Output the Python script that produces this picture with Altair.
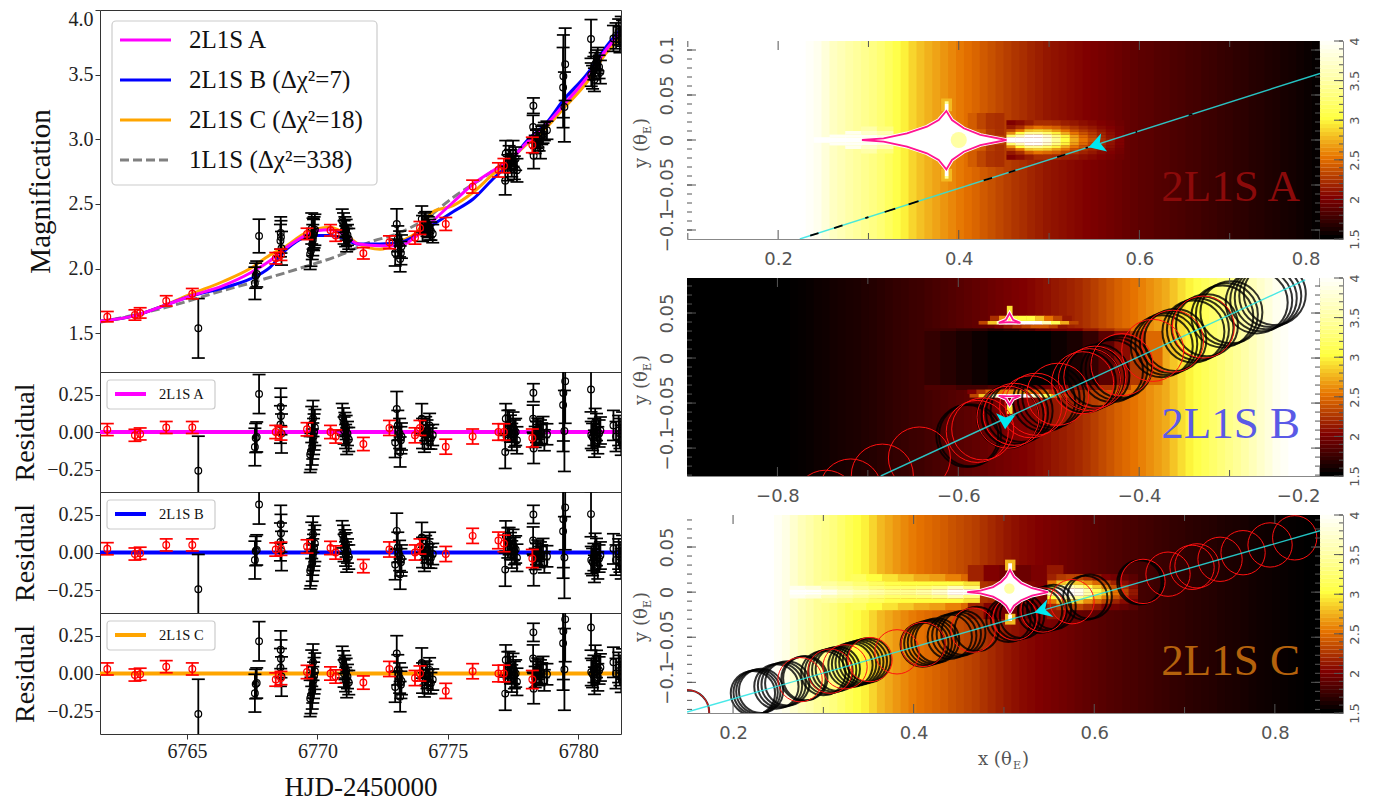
import altair as alt
import pandas as pd

SERIF = "Liberation Serif"
SANS = "DejaVu Sans"
GREY = "#555555"

# ---------- light curves ----------
day_a = [6761.66,6763.0,6764.19,6765.12,6766.38,6767.42,6768.18,6768.82,6769.45,6769.97,6770.48,6770.98,6771.56,6772.4,6773.17,6773.81,6774.43,6775.2,6775.97,6776.73,6777.27,6778.04,6778.8,6779.42,6780.34,6781.1,6781.64]
mag_a = [1.592,1.636,1.719,1.786,1.868,1.966,2.061,2.165,2.247,2.293,2.301,2.268,2.19,2.177,2.177,2.254,2.37,2.513,2.654,2.757,2.82,2.977,3.118,3.26,3.48,3.70,3.83]
mag_b = [1.592,1.636,1.719,1.786,1.85,1.92,2.01,2.15,2.236,2.255,2.255,2.236,2.19,2.19,2.203,2.26,2.34,2.44,2.538,2.693,2.796,2.99,3.13,3.30,3.505,3.724,3.855]
mag_c = [1.592,1.636,1.72,1.80,1.90,2.0,2.105,2.177,2.265,2.306,2.32,2.28,2.19,2.15,2.208,2.283,2.44,2.487,2.59,2.73,2.82,2.964,3.095,3.235,3.443,3.675,3.78]
day_s = [6761.66,6764.19,6766.38,6767.42,6769.45,6770.98,6772.01,6773.04,6774.04,6775.2,6776.73,6778.8,6781.1,6781.64]
mag_s = [1.585,1.70,1.83,1.888,2.01,2.113,2.205,2.268,2.37,2.55,2.757,3.12,3.70,3.84]

# ---------- red data ----------
red_day = [6761.94,6763.0,6763.2,6764.2,6765.2,6768.4,6768.6,6769.6,6770.5,6770.7,6771.76,6772.76,6773.74,6773.93,6774.92,6775.95,6776.94,6777.15,6778.24]
red_mag = [1.628,1.641,1.657,1.75,1.806,2.08,2.107,2.268,2.296,2.255,2.118,2.203,2.239,2.314,2.345,2.634,2.763,2.796,2.956]
red_err = [.04,.04,.04,.04,.04,.044,.044,.044,.044,.044,.044,.05,.05,.05,.05,.05,.055,.055,.06]
red_res_a = [.016,-.022,-.013,.03,.03,0,-.01,.018,0,-.03,-.08,.027,-.022,.027,-.098,-.03,0,0,-.04]
red_res_b = [.025,-.01,-.005,.05,.05,.02,.025,.04,.03,0,-.09,.02,0,.04,-.01,.11,.08,.06,-.04]
red_res_c = [.03,-.01,-.005,.045,.03,-.04,-.03,.01,0,-.02,-.06,.03,-.03,0,-.115,.015,0,0,-.04]

# ---------- black data, one list per cluster ----------
blk_day = [[6765.43],[6767.76],[6767.63,6767.6,6767.67],[6768.59,6768.6,6768.58,6768.62],
 [6769.72,6769.75,6769.8,6769.82,6769.85,6769.87,6769.9,6769.78,6769.83],
 [6770.95,6771.0,6771.05,6771.1,6771.02,6771.15,6771.08,6771.2,6771.12],
 [6773.04,6773.15,6772.98,6773.17,6773.22,6773.08,6773.2],
 [6774.0,6774.03,6774.1,6774.2,6774.3,6774.42,6774.25,6774.35,6774.15],
 [6777.2,6777.22,6777.35,6777.4,6777.5,6777.6,6777.45,6777.55,6777.65,6777.3],
 [6778.28,6778.27,6778.29,6778.4,6778.5,6778.6,6778.7,6778.35,6778.55,6778.45,6778.65,6778.8],
 [6779.43,6779.5,6779.42,6779.47],[6780.49],
 [6780.5,6780.6,6780.65,6780.7,6780.75,6780.8,6780.85,6780.55,6780.62],
 [6781.35,6781.45,6781.55,6781.6,6781.65,6781.7]]
blk_mag = [[1.538],[2.252],[1.945,1.886,1.958],[2.275,2.245,2.216,2.157],
 [2.113,2.138,2.19,2.22,2.26,2.28,2.30,2.31,2.27],
 [2.37,2.34,2.32,2.30,2.28,2.26,2.25,2.23,2.22],
 [2.345,2.19,2.12,2.075,2.17,2.23,2.12],
 [2.384,2.31,2.35,2.33,2.30,2.27,2.32,2.29,2.36],
 [2.68,2.89,2.86,2.83,2.89,2.85,2.80,2.78,2.76,2.78],
 [3.26,3.095,2.873,3.0,2.98,3.03,3.06,2.96,2.93,3.01,3.04,3.07],
 [3.487,3.58,3.40,3.25],[3.776],
 [3.50,3.55,3.58,3.6,3.62,3.56,3.52,3.48,3.46],
 [3.78,3.8,3.83,3.77,3.85,3.82]]
blk_err = [[.23],[.13],[.097,.125,.1],[.125,.125,.125,.13],
 [.12,.12,.12,.12,.12,.12,.12,.12,.12],
 [.09,.09,.08,.08,.09,.08,.08,.08,.09],
 [.117,.1,.1,.1,.09,.1,.09],
 [.1,.1,.08,.08,.08,.07,.08,.07,.08],
 [.11,.1,.09,.09,.1,.09,.09,.09,.09,.1],
 [.06,.09,.1,.07,.07,.07,.07,.07,.08,.07,.07,.07],
 [.32,.28,.31,.27],[.15],
 [.09,.09,.09,.09,.09,.09,.09,.09,.09],
 [.1,.1,.1,.1,.1,.1]]
blk_res = [[-.258],[.253],[-.04,-.10,-.033],[.167,.107,.05,-.01],
 [-.15,-.13,-.10,-.06,-.03,0,.03,.05,.09],
 [.10,.07,.05,.03,.01,-.01,-.03,-.05,-.06],
 [.153,-.01,-.07,-.133,-.03,.044,-.055],
 [.089,-.01,-.055,0,.044,-.02,-.033,-.044,.022],
 [-.133,.089,.055,.022,.033,0,-.033,-.01,-.055,.044],
 [.262,.089,-.11,0,-.02,-.01,-.055,-.033,0,.022,.033,-.015],
 [.26,.338,.18,.007],[.284],
 [-.02,0,.067,.033,-.055,-.01,.01,-.033,-.078],
 [.044,-.03,.01,-.01,-.055,.033]]
shift_b = [.015,.065,.05,.02,.03,.02,-.01,.01,.02,-.01,-.04,-.03,-.03,-.02]
shift_c = [-.01,-.04,-.03,-.01,-.015,-.01,-.02,-.02,0,.01,.02,.02,.03,.03]

rows = []
for i in range(len(blk_day)):
    for j in range(len(blk_day[i])):
        rows.append(dict(day=blk_day[i][j], mag=blk_mag[i][j], err=blk_err[i][j],
                         A=blk_res[i][j], B=blk_res[i][j]+shift_b[i], C=blk_res[i][j]+shift_c[i]))
black = pd.DataFrame(rows)
red = pd.DataFrame(dict(day=red_day, mag=red_mag, err=red_err, A=red_res_a, B=red_res_b, C=red_res_c))

X_DOM = [6761.66, 6781.64]
COL = dict(A="#ff00ff", B="#0000ff", C="#ffa500")
xs_top = alt.Scale(domain=X_DOM, nice=False, zero=False)

def data_layers(df, col, yscale, colour, rad, xaxis, yaxis):
    d = pd.DataFrame(dict(day=df.day, v=df[col], lo=df[col]-df.err, hi=df[col]+df.err))
    xs = alt.X("day:Q", scale=xs_top, axis=xaxis)
    ys = alt.Y("v:Q", scale=yscale, axis=yaxis)
    ylo = alt.Y("lo:Q", scale=yscale, axis=yaxis)
    yhi = alt.Y("hi:Q", scale=yscale, axis=yaxis)
    c = alt.Chart(d)
    return [
        c.mark_rule(color=colour, strokeWidth=1.8, clip=True).encode(x=xs, y=ylo, y2=alt.Y2("hi:Q")),
        c.mark_point(shape="stroke", size=169, color=colour, strokeWidth=1.7, opacity=1, clip=True).encode(x=xs, y=ylo),
        c.mark_point(shape="stroke", size=169, color=colour, strokeWidth=1.7, opacity=1, clip=True).encode(x=xs, y=yhi),
        c.mark_point(shape="circle", size=rad, color=colour, filled=False, strokeWidth=1.2, opacity=1, clip=True).encode(x=xs, y=ys),
    ]

one = pd.DataFrame({"a": [0]})

def txt(s, x, y, size, font=SERIF, color="#111111", **kw):
    return alt.Chart(one).mark_text(text=s, font=font, fontSize=size, color=color, align=kw.pop("align", "left"),
                                    baseline=kw.pop("baseline", "alphabetic"), **kw).encode(x=alt.value(x), y=alt.value(y))

# ---------- top panel ----------
ys_top = alt.Scale(domain=[1.2, 4.0], nice=False, zero=False)
axis_top = alt.Axis(values=[1.5, 2, 2.5, 3, 3.5, 4], format=".1f", title="Magnification",
        titleFont=SERIF, titleFontSize=29, titleFontWeight="normal", titleColor="#111", titlePadding=13,
        labelFont=SERIF, labelFontSize=20, labelColor="#222", tickSize=5, tickColor="#333", domain=False, grid=False,
        labelFlush=True, labelFlushOffset=1)

def curve(days, mags, colour, dash=None):
    kw = dict(strokeDash=dash) if dash else {}
    return alt.Chart(pd.DataFrame(dict(day=days, v=mags))).mark_line(
        color=colour, strokeWidth=3, interpolate="monotone", clip=True, **kw).encode(
        x=alt.X("day:Q", scale=xs_top, axis=None), y=alt.Y("v:Q", scale=ys_top, axis=axis_top))

legend_rows = [("2L1S A", COL["A"], None), ("2L1S B (Δχ²=7)", COL["B"], None),
               ("2L1S C (Δχ²=18)", COL["C"], None), ("1L1S (Δχ²=338)", "#808080", [9, 4])]
legend = [alt.Chart(one).mark_rect(fill="white", fillOpacity=0.85, stroke="#cccccc", strokeWidth=1.2, cornerRadius=4).encode(
    x=alt.value(12), x2=alt.value(277), y=alt.value(11), y2=alt.value(175))]
for i, (lab, colr, dash) in enumerate(legend_rows):
    yy = 30 + 40 * i
    kw = dict(strokeDash=dash) if dash else {}
    legend.append(alt.Chart(one).mark_rule(color=colr, strokeWidth=3, **kw).encode(
        x=alt.value(20), x2=alt.value(71), y=alt.value(yy)))
    legend.append(txt(lab, 89, yy + 8, 25))

top = alt.layer(
    curve(day_s, mag_s, "#808080", [9, 4]),
    curve(day_a, mag_c, COL["C"]), curve(day_a, mag_b, COL["B"]), curve(day_a, mag_a, COL["A"]),
    *data_layers(black, "mag", ys_top, "#000000", 45, None, axis_top),
    *data_layers(red, "mag", ys_top, "#ff0000", 45, None, axis_top),
    *legend
).properties(width=521, height=362, view=alt.ViewConfig(stroke="#333333"))

# ---------- residual panels ----------
ys_res = alt.Scale(domain=[-0.4, 0.4], nice=False, zero=False)
axis_res = alt.Axis(values=[-0.25, 0, 0.25], format=".2f", title="Residual",
            titleFont=SERIF, titleFontSize=28, titleFontWeight="normal", titleColor="#111", titlePadding=7,
            labelFont=SERIF, labelFontSize=20, labelColor="#222", tickSize=5, tickColor="#333", domain=False, grid=False)
axis_day = alt.Axis(values=[6765, 6770, 6775, 6780], format="d", title="HJD-2450000", titleFont=SERIF, titleFontSize=27,
                     titleFontWeight="normal", titleColor="#111", titlePadding=13, labelFont=SERIF, labelFontSize=20,
                     labelColor="#222", tickSize=5, tickColor="#333", domain=False, grid=False)

def res_panel(col, label, h, bottom=False):
    xaxis = axis_day if bottom else None
    zero = alt.Chart(pd.DataFrame(dict(v=[0]))).mark_rule(color=COL[col], strokeWidth=4).encode(
        y=alt.Y("v:Q", scale=ys_res, axis=axis_res))
    leg = [alt.Chart(one).mark_rect(fill="white", fillOpacity=0.85, stroke="#cccccc", strokeWidth=1.2, cornerRadius=3).encode(
               x=alt.value(7), x2=alt.value(115), y=alt.value(8), y2=alt.value(37)),
           alt.Chart(one).mark_rule(color=COL[col], strokeWidth=4).encode(x=alt.value(15), x2=alt.value(46), y=alt.value(22)),
           txt(label, 59, 27, 14.5)]
    return alt.layer(zero, *data_layers(black, col, ys_res, "#000000", 45, xaxis, axis_res),
                     *data_layers(red, col, ys_res, "#ff0000", 45, xaxis, axis_res), *leg
                     ).properties(width=521, height=h, view=alt.ViewConfig(stroke="#333333"))

left = alt.vconcat(top, res_panel("A", "2L1S A", 120), res_panel("B", "2L1S B", 121),
                   res_panel("C", "2L1S C", 121, True), spacing=0, bounds="flush")

# ---------- magnification maps ----------
heat_scale = alt.Scale(domain=[1.5, 2, 2.5, 3, 3.5, 4],
                       range=["#000000", "#800000", "#e67300", "#ffff40", "#ffffa8", "#ffffff"],
                       clamp=True, zero=False, nice=False, interpolate="rgb")

base_a = [4,4,4,4,4,4,4,4,4,4,4,4,4,4,4,3.96,
 3.9,3.78,3.65,3.58,3.5,3.44,3.38,3.32,3.25,3.15,3.05,2.95,2.85,2.78,2.72,2.67,
 2.62,2.57,2.52,2.48,2.44,2.39,2.35,2.31,2.27,2.23,2.2,2.16,2.13,2.1,2.08,2.06,
 2.04,2.02,2.0,1.98,1.96,1.94,1.92,1.9,1.88,1.86,1.85,1.83,1.82,1.8,1.79,1.77,
 1.76,1.74,1.73,1.71,1.7,1.68,1.67,1.65,1.64,1.62,1.61,1.59,1.58,1.56,1.54,1.52]
base_b = [1.5,1.5,1.5,1.5,1.5,1.5,1.5,1.5,1.5,1.5,1.5,1.5,1.5,1.51,
 1.52,1.53,1.55,1.56,1.58,1.59,1.6,1.61,1.63,1.64,1.66,1.68,1.7,1.71,1.73,1.74,
 1.76,1.78,1.8,1.82,1.84,1.86,1.88,1.9,1.92,1.94,1.96,1.98,2.0,2.02,2.05,2.07,
 2.1,2.12,2.15,2.18,2.22,2.27,2.32,2.37,2.42,2.46,2.5,2.55,2.6,2.65,2.7,2.79,
 2.88,2.96,3.05,3.12,3.2,3.28,3.35,3.42,3.5,3.6,3.7,3.8,3.9,3.95,4,4,4,4]
base_c = [4,4,4,4,4,4,4,4,4,4,4,3.93,
 3.85,3.72,3.6,3.51,3.42,3.36,3.3,3.2,3.1,3.02,2.95,2.85,2.75,2.69,2.63,2.58,
 2.53,2.49,2.46,2.43,2.4,2.36,2.33,2.3,2.27,2.22,2.18,2.14,2.1,2.07,2.04,2.02,
 2.0,1.98,1.96,1.94,1.92,1.9,1.88,1.86,1.84,1.82,1.81,1.79,1.78,1.76,1.75,1.73,
 1.72,1.7,1.69,1.67,1.66,1.65,1.64,1.62,1.61,1.6,1.59,1.57,1.56,1.55,1.54,1.53,
 1.52,1.51,1.5,1.5]

# y0, y1, first x, step, values (drawn on both sides of y=0 when mirrored)
patch_a = [
 (.012,.03,.41,.01,[2.4,2.3,2.22,2.2]),
 (.005,.012,.43,.01,[2.25,2.2,2.25]),
 (0,.003,.2393,.0175,[4,4,4,4]),
 (.003,.006,.2568,.0175,[3.95,3.95,3.95,3.8]),
 (.006,.01,.2743,.0175,[3.9,3.7,3.55]),
 (.01,.015,.2918,.0175,[3.5,3.3]),
 (.016,.022,.4528,.01,[2.0,2.05,2.12,2.2,2.2,2.18,2.13,2.1,2.06,2.03,2.0,1.97,1.93]),
 (.012,.016,.4528,.01,[2.1,2.2,2.4,2.5,2.45,2.4,2.3,2.22,2.15,2.1,2.04,2.0,1.95]),
 (.009,.012,.4528,.01,[2.3,2.5,2.8,2.85,2.8,2.65,2.5,2.35,2.25,2.18,2.1,2.03,1.96]),
 (.006,.009,.4528,.01,[2.6,3.0,3.4,3.4,3.2,2.95,2.7,2.5,2.35,2.25,2.15,2.06,1.98]),
 (.003,.006,.4528,.01,[3.2,3.6,4,4,3.7,3.3,2.95,2.65,2.45,2.3,2.18,2.08,2.0]),
 (0,.003,.4528,.01,[4,4,4,4,3.8,3.4,3,2.7,2.5,2.35,2.2,2.1,2.0]),
 (.032,.046,.3805,.0115,[2.75]),
 (.033,.04,.3845,.004,[4]),
 (.04,.043,.3845,.004,[3.4]),
]
patch_b = [
 (-.03,.03,-.6375,.0175,[1.7,1.65,1.6,1.55,1.5,1.5,1.5,1.5,1.55,1.6,1.7,1.85,2.05,2.25,2.45]),
 (.03,.033,-.6375,.0175,[1.75,1.75,1.7,1.7,1.65,1.7,1.8,1.9,1.95,2.0,2.1,2.2,2.3]),
 (-.0355,-.03,-.6375,.0175,[1.8,1.8,1.75,1.75,1.8,1.85,1.9,1.95,2.0,2.05,2.1,2.2,2.3]),
 (.033,.0372,-.56,.01,[2,2.1,2.2,2.3,2.4,2.4,2.3,2.1]),
 (.0372,.0412,-.5775,.01,[2.3,2.8,3.6,4,4,4,4,3.6,3.1,2.7,2.3]),
 (.0412,.047,-.565,.01,[2.2,2.6,3,3,3,2.8,2.5,2.3,2.1]),
 (.048,.058,-.5463,.006,[2.9]),
 (-.0399,-.035,-.59,.01,[2.0,2.2,2.4,2.5,2.6,2.6,2.6,2.5,2.4,2.2]),
 (-.0439,-.0399,-.5875,.01,[2.3,2.8,3.6,4,4,4,4,3.6,3.1,2.7,2.3]),
 (-.062,-.052,-.5463,.006,[2.9]),
]
patch_c = [
 (.012,.02,.33,.0175,[3.15,3.0,2.9,2.8,2.7,2.65,2.55,2.45,2.3,2.15]),
 (.007,.012,.2975,.0175,[3.45,3.35,3.25,3.15,3.05,3.0,3.0,3.0,3.0,2.9]),
 (.003,.007,.2625,.0175,[3.9,3.8,3.6,3.5,3.4,3.3,3.2,3.2,3.25,3.35,3.6,3.3]),
 (0,.003,.2625,.0175,[4,4,3.9,3.7,3.6,3.5,3.4,3.4,3.5,3.7,4,4]),
 (.012,.03,.46,.0175,[2.15,2.0,1.95,1.92,1.98,2.1]),
 (.013,.02,.548,.01,[2.15,2.25,2.3,2.3,2.2,2.1,2.0,1.95,1.9,1.85]),
 (.008,.013,.548,.01,[2.5,2.8,2.9,2.8,2.6,2.45,2.3,2.15,2.05,1.95]),
 (.004,.008,.548,.01,[3,3.5,3.6,3.4,3.1,2.8,2.55,2.35,2.2,2.05]),
 (0,.004,.548,.01,[3.5,4,4,3.9,3.5,3.1,2.8,2.5,2.3,2.1]),
 (.024,.036,.5012,.011,[2.75]),
 (.025,.032,.5047,.004,[4]),
]

def heat_frame(base, xd, yd, patches, mirror):
    cells = []
    step = (xd[1] - xd[0]) / len(base)
    for i, v in enumerate(base):
        cells.append(dict(x=xd[0] + i * step, x2=xd[0] + (i + 1.15) * step, y=yd[0], y2=yd[1], v=v))
    for y0, y1, xs, st, vals in patches:
        for i, v in enumerate(vals):
            cells.append(dict(x=xs + i * st, x2=xs + (i + 1.05) * st, y=y0, y2=y1, v=v))
            if mirror:
                cells.append(dict(x=xs + i * st, x2=xs + (i + 1.05) * st, y=-y0, y2=-y1, v=v))
    return pd.DataFrame(cells)

# caustics
ca_x = [.2928,.3168,.3427,.3648,.3778,.3863,.3925,.4055,.4239,.4528]
ca_up = [0,.0018,.0074,.0148,.0222,.0322,.0222,.013,.0056,0]
ca_lo = [0,-.0018,-.0074,-.0148,-.0222,-.0326,-.0222,-.013,-.0056,0]
cc_x = [.4593,.474,.488,.497,.5025,.5067,.511,.519,.531,.5488]
cc_up = [0,.0016,.0056,.0113,.0169,.0244,.0169,.0099,.0043,0]
cc_lo = [0,-.0015,-.005,-.0101,-.015,-.022,-.015,-.009,-.0039,0]
cb_up_x = [-.5553,-.5433,-.5313,-.5395,-.5433,-.5472,-.5553]
cb_up_y = [.0392,.0398,.0392,.0425,.0497,.0425,.0392]
cb_lo_x = [-.5553,-.5433,-.5313,-.5395,-.5433,-.5472,-.5553]
cb_lo_y = [-.0419,-.0425,-.0419,-.0455,-.052,-.0455,-.0419]

# source trajectories
traj_a_x, traj_a_y = [.224,.8], [-.11,.074]
traj_b_x, traj_b_y = [-.6857,-.2164], [-.131,.0867]
traj_c_x, traj_c_y = [.149,.85], [-.133,.068]

# short black pieces of the trajectory in map A (tiny source circles)
seg_x = [.2355,.262,.2965,.318,.3445,.4276,.4553,.509,.5404,.5958,.6545]
seg_x2 = [.2447,.2713,.300,.3297,.3555,.4369,.4627,.518,.543,.5976,.6587]
seg_y = [-.1063,-.0979,-.0869,-.0800,-.0715,-.0449,-.0361,-.0190,-.0089,.0088,.0275]
seg_y2 = [-.1034,-.0949,-.0857,-.0762,-.0680,-.0420,-.0337,-.0161,-.0081,.0094,.0289]

# source circles
ring_red_b_x = [-.7467,-.719,-.684,-.643,-.579,-.573,-.545,-.538,-.52,-.514,-.49,-.4625,-.455,-.449,-.419,-.385,-.363,-.329]
ring_red_b_y = [-.159,-.1465,-.130,-.111,-.0815,-.0787,-.0657,-.0625,-.0541,-.0513,-.0402,-.0274,-.024,-.0212,-.0073,.0085,.0187,.0344]
ring_blk_b_x = [-.590,-.587,-.545,-.540,-.535,-.530,-.505,-.500,-.495,-.46,-.455,-.45,-.445,-.43,-.425,-.42,-.375,-.37,-.365,-.36,-.34,-.335,-.33,-.325,-.308,-.303,-.298,-.27,-.265,-.26,-.255,-.25]
ring_blk_b_y = [-.0866,-.0857,-.0657,-.0634,-.0611,-.0587,-.0472,-.0449,-.0426,-.0263,-.024,-.0217,-.0194,-.0144,-.0121,-.0098,.0132,.0155,.0178,.0201,.0294,.0317,.034,.0364,.0462,.0485,.0508,.0618,.0641,.0665,.0688,.0711]
ring_red_c_x = [.149,.2742,.3074,.324,.3517,.3816,.4104,.4658,.5123,.5433,.5754,.654,.6817,.7083,.7138,.7393,.7648,.7947,.822]
ring_red_c_y = [-.133,-.0971,-.0876,-.0828,-.0748,-.0662,-.058,-.0421,-.0287,-.0198,-.0106,.0119,.0199,.0275,.0291,.0364,.0437,.0523,.0602]
ring_blk_c_x = [.149,.222,.225,.228,.231,.248,.252,.256,.26,.278,.28,.30,.304,.308,.312,.316,.33,.334,.338,.342,.346,.35,.41,.414,.418,.422,.426,.44,.445,.45,.455,.47,.505,.51,.515,.52,.54,.545,.55,.555,.59,.595,.65,.652]
ring_blk_c_y = [-.133,-.112,-.1111,-.1103,-.1094,-.1046,-.1034,-.1023,-.1011,-.096,-.0954,-.0897,-.0885,-.0874,-.0862,-.0851,-.081,-.0799,-.0788,-.0776,-.0765,-.0753,-.0581,-.0569,-.0558,-.0546,-.0535,-.0495,-.0480,-.0466,-.0452,-.0409,-.0308,-.0294,-.0280,-.0265,-.0208,-.0194,-.0179,-.0165,-.0064,-.005,.0108,.0114]

cbar_levels = [1.5 + 0.05 * i for i in range(50)]

def map_panel(name, xd, yd, base, patches, mirror, xmajor, xminor, ymajor, colour, traj, arrow, arrow_path,
              rings=None, ring_size=0, lines=(), areas=(), dots=(), xtitle=False):
    sx = alt.Scale(domain=xd, nice=False, zero=False)
    sy = alt.Scale(domain=yd, nice=False, zero=False)
    ax = alt.Axis(values=xmajor, format=".1f", title=None, labelFont=SANS, labelFontSize=18,
                labelColor=GREY, tickSize=0, domain=False, grid=False, labelPadding=11, labelOverlap=False)
    ay = alt.Axis(values=ymajor, format=".2~f", title=None, labelFont=SANS, labelFontSize=18,
                labelColor=GREY, labelAngle=270, tickSize=0, domain=False, grid=False, labelPadding=11, labelOverlap=False)
    X0 = alt.X("x:Q", scale=sx, axis=ax)
    Y0 = alt.Y("y:Q", scale=sy, axis=ay)
    heat = alt.Chart(heat_frame(base, xd, yd, patches, mirror)).mark_rect(clip=True).encode(
        x=X0, x2=alt.X2("x2"), y=Y0, y2=alt.Y2("y2"),
        color=alt.Color("v:Q", scale=heat_scale, legend=None))
    layers = [heat]
    if rings:
        for rx, ry, colr, w, op in rings:
            layers.append(alt.Chart(pd.DataFrame(dict(x=rx, y=ry))).mark_point(
                shape="circle", size=ring_size, filled=False, color=colr, strokeWidth=w, opacity=op, clip=True).encode(x=X0, y=Y0))
    for a_x, up, lo in areas:
        layers.append(alt.Chart(pd.DataFrame(dict(x=a_x, y=up, y2=lo))).mark_area(color="white", clip=True).encode(
            x=X0, y=Y0, y2=alt.Y2("y2")))
    for dx, dy, size in dots:
        layers.append(alt.Chart(pd.DataFrame(dict(x=[dx], y=[dy]))).mark_point(
            shape="circle", size=size, filled=True, color="#ffff9a", opacity=0.9, clip=True).encode(x=X0, y=Y0))
    for lx, ly in lines:
        d = pd.DataFrame(dict(x=lx, y=ly, o=list(range(len(lx)))))
        order = alt.Order("o:Q")
        layers.append(alt.Chart(d).mark_line(color="white", strokeWidth=3.6, clip=True).encode(x=X0, y=Y0, order=order))
        layers.append(alt.Chart(d).mark_line(color="#ff1493", strokeWidth=1.8, clip=True).encode(x=X0, y=Y0, order=order))
    layers.append(alt.Chart(pd.DataFrame(dict(x=traj[0], y=traj[1]))).mark_line(
        color="#28e4e4", strokeWidth=1.4, opacity=0.85, clip=True).encode(x=X0, y=Y0))
    if name == "A":
        layers.append(alt.Chart(pd.DataFrame(dict(x=seg_x, x2=seg_x2, y=seg_y, y2=seg_y2))).mark_rule(
            color="#000000", strokeWidth=1.8, clip=True).encode(x=X0, x2=alt.X2("x2"), y=Y0, y2=alt.Y2("y2")))
    layers.append(alt.Chart(pd.DataFrame(dict(x=[arrow[0]], y=[arrow[1]]))).mark_point(
        shape=arrow_path, size=4, filled=True, color="#00e8f0", opacity=1).encode(x=X0, y=Y0))
    # inward ticks
    for vals, length in ((xmajor, 9), (xminor, 6)):
        d = pd.DataFrame(dict(x=vals))
        layers.append(alt.Chart(d).mark_rule(color=GREY).encode(x=X0, y=alt.value(0), y2=alt.value(length)))
        layers.append(alt.Chart(d).mark_rule(color=GREY).encode(x=X0, y=alt.value(198 - length), y2=alt.value(198)))
    yminor = [i / 100 for i in range(-13, 11) if yd[0] < i / 100 < yd[1]]
    for vals, length in ((ymajor, 9), (yminor, 5)):
        d = pd.DataFrame(dict(y=vals))
        layers.append(alt.Chart(d).mark_rule(color=GREY).encode(y=Y0, x=alt.value(0), x2=alt.value(length)))
        layers.append(alt.Chart(d).mark_rule(color=GREY).encode(y=Y0, x=alt.value(633 - length), x2=alt.value(633)))
    layers.append(txt("2L1S  " + name, 613, 160, 45, color=colour, align="right"))
    layers.append(txt("y (θ", -40, 127, 18, font="DejaVu Serif", color=GREY, angle=270))
    layers.append(txt("E", -36, 93, 11, font="DejaVu Serif", color=GREY, angle=270))
    layers.append(txt(")", -40, 84, 18, font="DejaVu Serif", color=GREY, angle=270))
    if xtitle:
        layers.append(txt("x (θ", 291, 250, 18, font="DejaVu Serif", color=GREY))
        layers.append(txt("E", 326, 254, 11, font="DejaVu Serif", color=GREY))
        layers.append(txt(")", 335, 250, 18, font="DejaVu Serif", color=GREY))
    panel = alt.layer(*layers).properties(width=633, height=198, view=alt.ViewConfig(stroke="#888888"))

    sv = alt.Scale(domain=[1.5, 4], nice=False, zero=False)
    acb = alt.Axis(orient="right", values=[1.5, 2, 2.5, 3, 3.5, 4], format="~g", title=None,
                labelFont=SANS, labelFontSize=13, labelColor=GREY, labelAngle=270, tickSize=0, domain=False, grid=False, labelPadding=5, labelOverlap=False)
    cb = alt.Chart(pd.DataFrame(dict(v=cbar_levels, v2=[c + 0.052 for c in cbar_levels]))).mark_rect().encode(
        x=alt.value(0), x2=alt.value(23),
        y=alt.Y("v:Q", scale=sv, axis=acb),
        y2=alt.Y2("v2"), color=alt.Color("v:Q", scale=heat_scale, legend=None))
    layers2 = [cb]
    for vals, length in (([1.5, 2, 2.5, 3, 3.5, 4], 9), ([1.5 + 0.1 * i for i in range(26)], 4)):
        layers2.append(alt.Chart(pd.DataFrame(dict(v=vals))).mark_rule(color=GREY).encode(
            y=alt.Y("v:Q", scale=sv, axis=acb), x=alt.value(23 - length), x2=alt.value(23)))
    bar = alt.layer(*layers2).properties(width=23, height=198, view=alt.ViewConfig(stroke="#888888"))
    return panel, bar

BW, RW = 2.0, 1.0
A = map_panel("A", [.0991, .8], [-.11, .11], base_a, patch_a, True, [.2, .4, .6, .8], [.1, .3, .5, .7],
              [-.1, -.05, 0, .05, .1], "#8b0a0a", (traj_a_x, traj_a_y), (.544, -.008), "M0,0L12.4,-14L11,-4.6L18.4,4.4Z",
              lines=[(ca_x + ca_x[::-1], ca_up + ca_lo[::-1])], areas=[(ca_x, ca_up, ca_lo)], dots=[(.4, 0, 260)])
B = map_panel("B", [-.9, -.2], [-.131, .0889], base_b, patch_b, False, [-.8, -.6, -.4, -.2], [-.7, -.5, -.3],
              [-.1, -.05, 0, .05], "#5a5ae6", (traj_b_x, traj_b_y), (-.5482, -.0792), "M0,0L-9,-16L1,-11.6L10.3,-14.3Z",
              rings=[(ring_blk_b_x, ring_blk_b_y, "#000000", BW, 0.8), (ring_red_b_x, ring_red_b_y, "#ff1010", RW, 1)], ring_size=3848,
              lines=[(cb_up_x, cb_up_y), (cb_lo_x, cb_lo_y)])
C = map_panel("C", [.149, .85], [-.134, .0855], base_c, patch_c, True, [.2, .4, .6, .8], [.3, .5, .7],
              [-.1, -.05, 0, .05], "#b5620c", (traj_c_x, traj_c_y), (.5337, -.0226), "M0,0L13,-13.3L10.7,-3.3L19,4.4Z",
              rings=[(ring_blk_c_x, ring_blk_c_y, "#000000", BW, 0.8), (ring_red_c_x, ring_red_c_y, "#ff1010", RW, 1)], ring_size=1963,
              lines=[(cc_x + cc_x[::-1], cc_up + cc_lo[::-1])], areas=[(cc_x, cc_up, cc_lo)], dots=[(.506, .004, 110)], xtitle=True)

spacer = alt.Chart(one).mark_rect(opacity=0).encode(x=alt.value(0), x2=alt.value(1), y=alt.value(0), y2=alt.value(25)).properties(
    width=1, height=25, view=alt.ViewConfig(stroke=None))
grid = alt.concat(A[0], A[1], B[0], B[1], C[0], C[1], columns=2, spacing={"row": 39, "column": 0}, bounds="flush", align="each")
right = alt.vconcat(spacer, grid, spacing=0)

chart = alt.hconcat(left, right, spacing=8).properties(padding={"left": 3, "top": 0, "right": 0, "bottom": 0}, background="white")
chart.save("out.html", embed_options={"renderer": "svg", "actions": False})
